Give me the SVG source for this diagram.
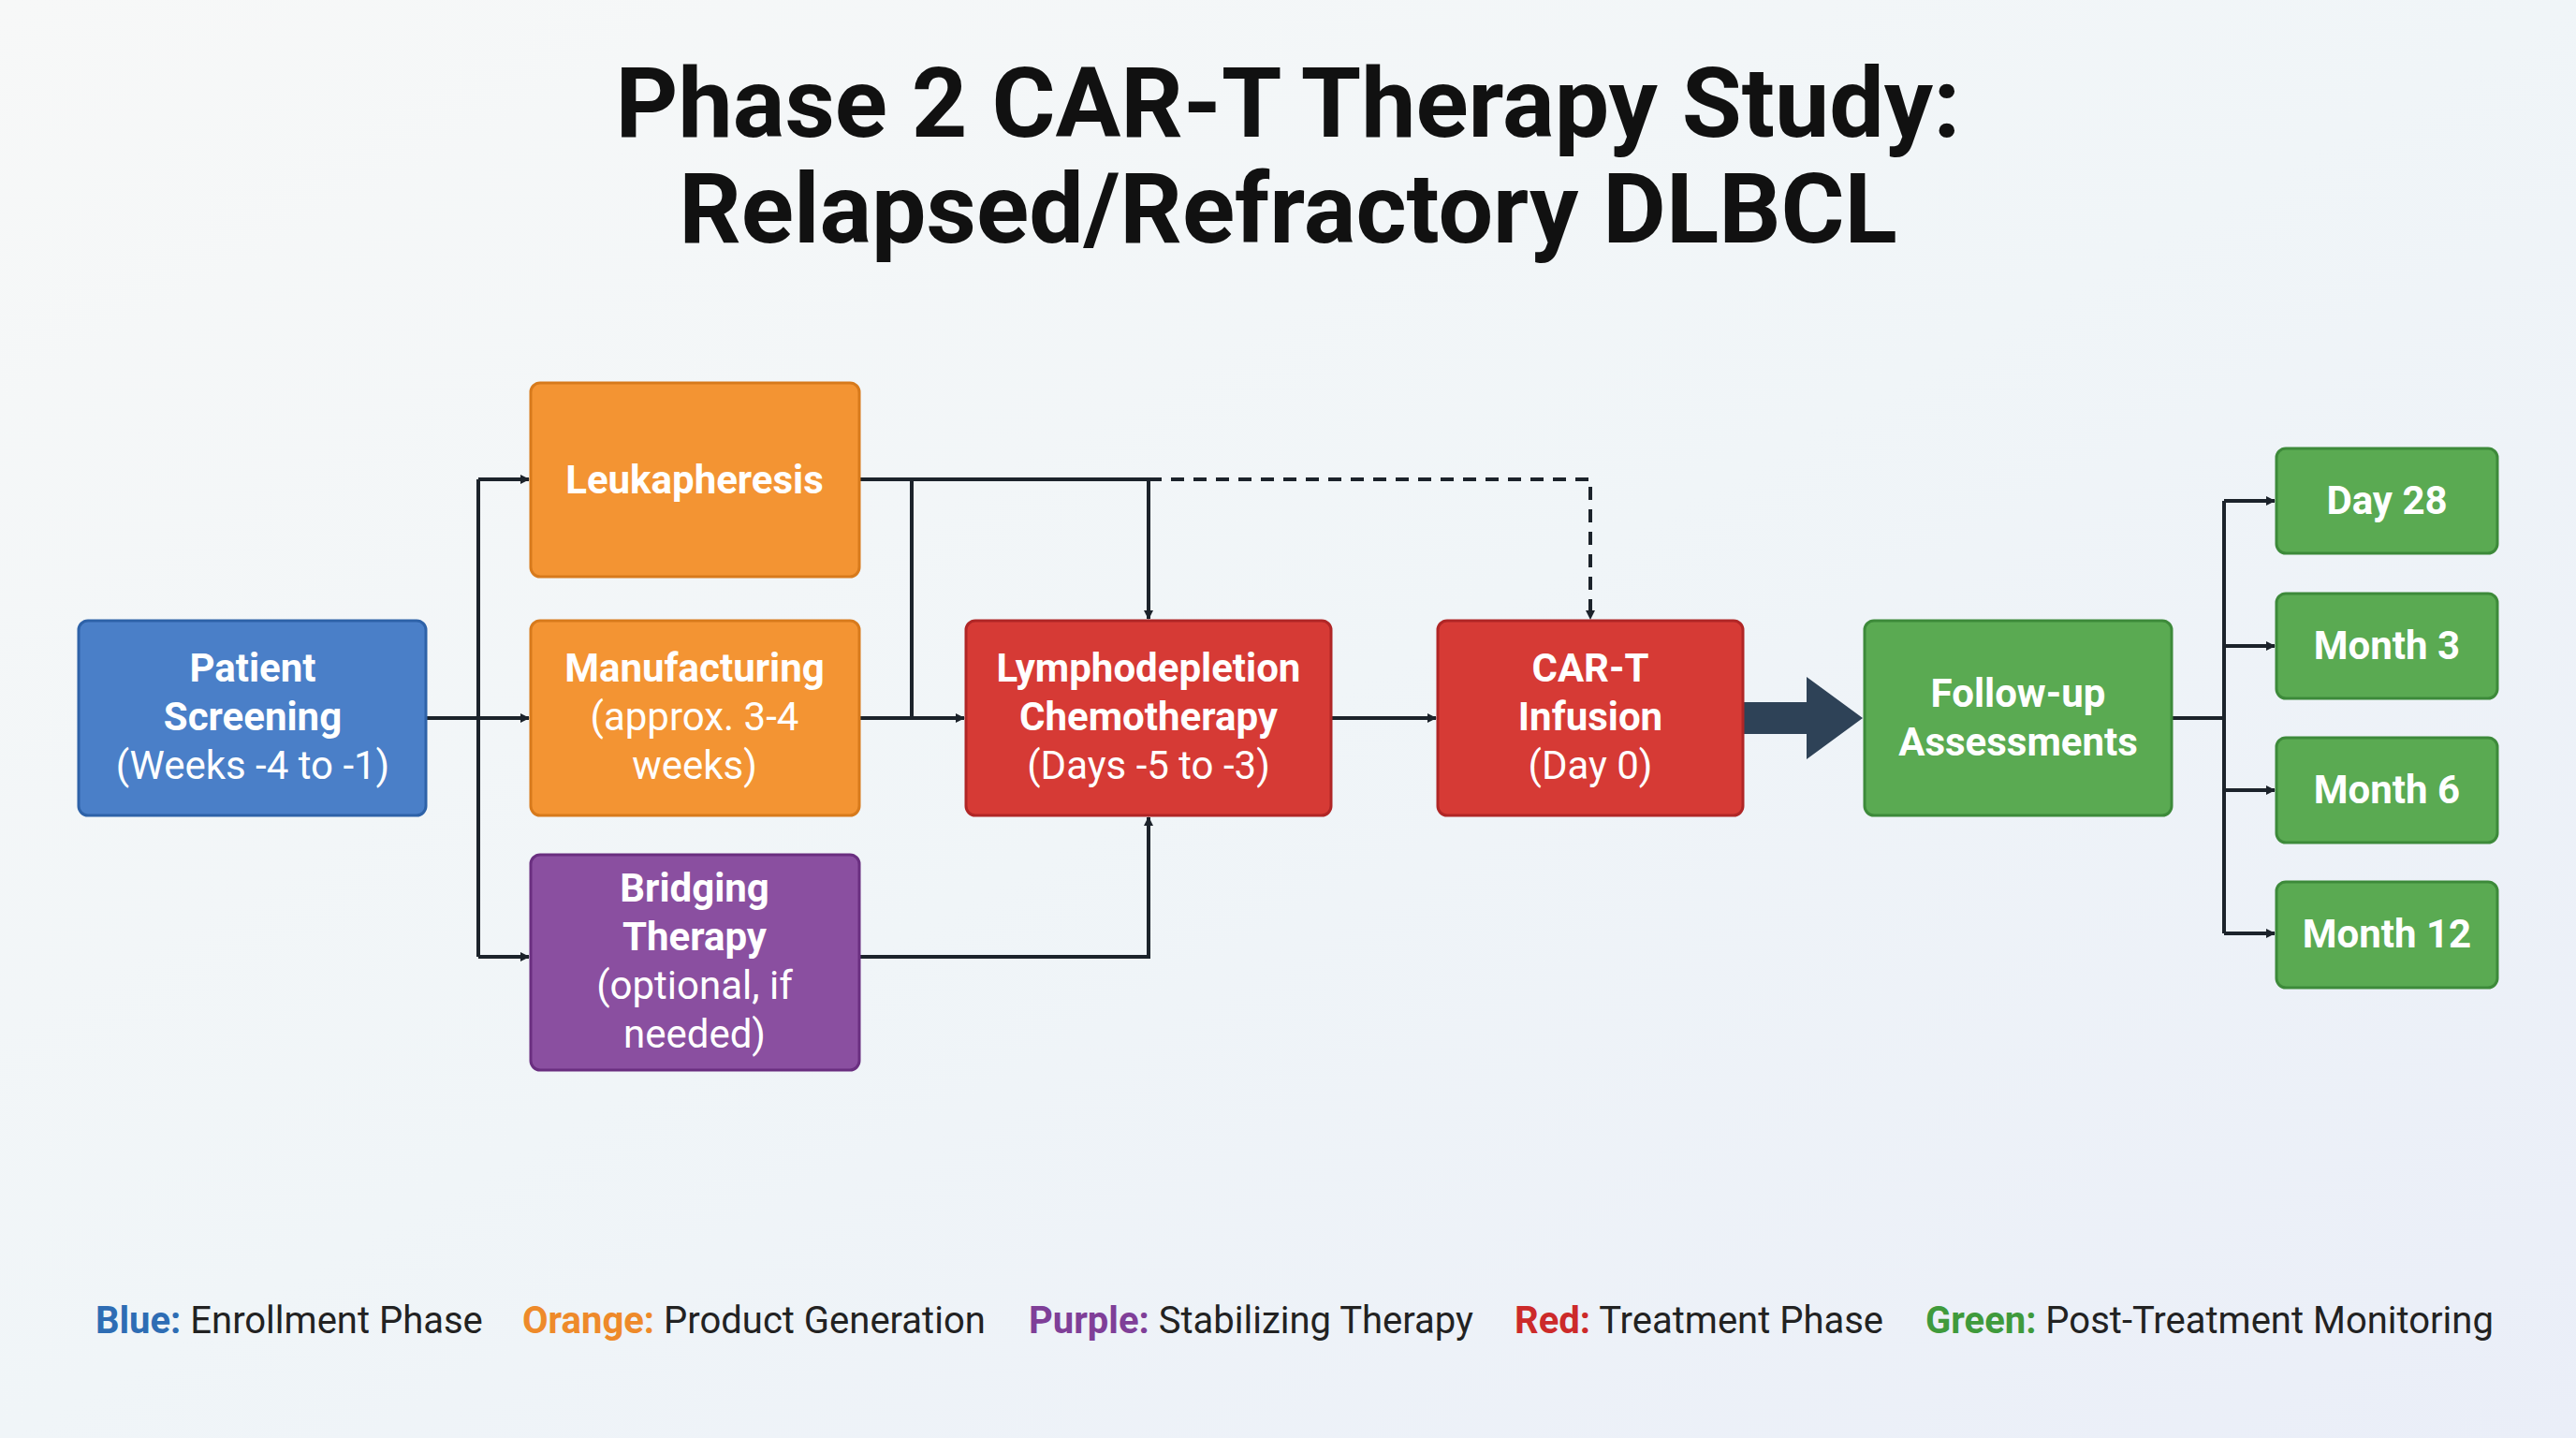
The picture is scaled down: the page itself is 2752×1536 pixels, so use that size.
<svg xmlns="http://www.w3.org/2000/svg" width="2752" height="1536" viewBox="0 0 2752 1536">
<defs>
<linearGradient id="bg" x1="0" y1="0" x2="1" y2="1"><stop offset="0" stop-color="#f7f8f8"/><stop offset="0.5" stop-color="#f0f5f8"/><stop offset="1" stop-color="#eaeef8"/></linearGradient>
<marker id="ah" markerWidth="10" markerHeight="10" refX="9" refY="5" orient="auto" markerUnits="userSpaceOnUse" viewBox="0 0 10 10"><path d="M0,0 L10,5 L0,10 z" fill="#1c232b"/></marker>
</defs>
<style>
.n{stroke-width:3}
.t{font-family:Roboto,"Liberation Sans",sans-serif;font-size:42px;fill:#fff;text-anchor:middle}
.b{font-weight:bold}
.c{fill:none;stroke:#1c232b;stroke-width:4}
.lg{font-family:Roboto,"Liberation Sans",sans-serif;font-size:40px;fill:#222}
</style>
<rect width="2752" height="1536" fill="url(#bg)"/>
<g id="title" font-family="Roboto,'Liberation Sans',sans-serif" font-weight="bold" font-size="104" fill="#111" text-anchor="middle">
<text x="1376" y="146">Phase 2 CAR-T Therapy Study:</text>
<text x="1376" y="259">Relapsed/Refractory DLBCL</text>
</g>
<g id="connectors">
<path class="c" d="M455,767 H511"/>
<path class="c" d="M511,512 V1022"/>
<path class="c" d="M511,512 H565" marker-end="url(#ah)" style="stroke-width:4"/>
<path class="c" d="M511,767 H565" marker-end="url(#ah)"/>
<path class="c" d="M511,1022 H565" marker-end="url(#ah)"/>
<path class="c" d="M918,512 H1227 V661" marker-end="url(#ah)"/>
<path class="c" d="M974,512 V767"/>
<path class="c" d="M918,767 H1030" marker-end="url(#ah)"/>
<path class="c" d="M1227,512 H1699 V661" stroke-dasharray="14,10" marker-end="url(#ah)"/>
<path class="c" d="M918,1022 H1227 V873" marker-end="url(#ah)"/>
<path class="c" d="M1422,767 H1534" marker-end="url(#ah)"/>
<path d="M1862,750 H1930 V723 L1990,767 L1930,811 V784 H1862 z" fill="#2e4257"/>
<path class="c" d="M2320,767 H2376"/>
<path class="c" d="M2376,535 V997"/>
<path class="c" d="M2376,535 H2430" marker-end="url(#ah)"/>
<path class="c" d="M2376,690 H2430" marker-end="url(#ah)"/>
<path class="c" d="M2376,844 H2430" marker-end="url(#ah)"/>
<path class="c" d="M2376,997 H2430" marker-end="url(#ah)"/>
</g>
<g id="screening"><rect class="n" x="84" y="663" width="371" height="208" rx="10" fill="#4a7fc8" stroke="#2e62a8"/>
<text class="t" x="270" y="728"><tspan class="b">Patient</tspan><tspan class="b" x="270" dy="52">Screening</tspan><tspan x="270" dy="52">(Weeks -4 to -1)</tspan></text></g>
<g id="leuk"><rect class="n" x="567" y="409" width="351" height="207" rx="10" fill="#f39433" stroke="#d77a1c"/>
<text class="t b" x="742" y="527">Leukapheresis</text></g>
<g id="manuf"><rect class="n" x="567" y="663" width="351" height="208" rx="10" fill="#f39433" stroke="#d77a1c"/>
<text class="t" x="742" y="728"><tspan class="b">Manufacturing</tspan><tspan x="742" dy="52">(approx. 3-4</tspan><tspan x="742" dy="52">weeks)</tspan></text></g>
<g id="bridging"><rect class="n" x="567" y="913" width="351" height="230" rx="10" fill="#8a4fa0" stroke="#6a2f80"/>
<text class="t" x="742" y="963"><tspan class="b">Bridging</tspan><tspan class="b" x="742" dy="52">Therapy</tspan><tspan x="742" dy="52">(optional, if</tspan><tspan x="742" dy="52">needed)</tspan></text></g>
<g id="lympho"><rect class="n" x="1032" y="663" width="390" height="208" rx="10" fill="#d63a35" stroke="#b02626"/>
<text class="t" x="1227" y="728"><tspan class="b">Lymphodepletion</tspan><tspan class="b" x="1227" dy="52">Chemotherapy</tspan><tspan x="1227" dy="52">(Days -5 to -3)</tspan></text></g>
<g id="cart"><rect class="n" x="1536" y="663" width="326" height="208" rx="10" fill="#d63a35" stroke="#b02626"/>
<text class="t" x="1699" y="728"><tspan class="b">CAR-T</tspan><tspan class="b" x="1699" dy="52">Infusion</tspan><tspan x="1699" dy="52">(Day 0)</tspan></text></g>
<g id="followup"><rect class="n" x="1992" y="663" width="328" height="208" rx="10" fill="#5aaa52" stroke="#3d8a3a"/>
<text class="t b" x="2156" y="755">Follow-up<tspan x="2156" dy="52">Assessments</tspan></text></g>
<g id="d28"><rect class="n" x="2432" y="479" width="236" height="112" rx="10" fill="#5aaa52" stroke="#3d8a3a"/><text class="t b" x="2550" y="549">Day 28</text></g>
<g id="m3"><rect class="n" x="2432" y="634" width="236" height="112" rx="10" fill="#5aaa52" stroke="#3d8a3a"/><text class="t b" x="2550" y="704">Month 3</text></g>
<g id="m6"><rect class="n" x="2432" y="788" width="236" height="112" rx="10" fill="#5aaa52" stroke="#3d8a3a"/><text class="t b" x="2550" y="858">Month 6</text></g>
<g id="m12"><rect class="n" x="2432" y="942" width="236" height="113" rx="10" fill="#5aaa52" stroke="#3d8a3a"/><text class="t b" x="2550" y="1012">Month 12</text></g>
<g id="legend">
<text class="lg" x="102" y="1424"><tspan font-weight="bold" fill="#2e6db4">Blue:</tspan> Enrollment Phase</text>
<text class="lg" x="558" y="1424"><tspan font-weight="bold" fill="#ee8a2a">Orange:</tspan> Product Generation</text>
<text class="lg" x="1099" y="1424"><tspan font-weight="bold" fill="#7f3f98">Purple:</tspan> Stabilizing Therapy</text>
<text class="lg" x="1618" y="1424"><tspan font-weight="bold" fill="#cc2a2a">Red:</tspan> Treatment Phase</text>
<text class="lg" x="2057" y="1424"><tspan font-weight="bold" fill="#3f9a3c">Green:</tspan> Post-Treatment Monitoring</text>
</g>
</svg>
